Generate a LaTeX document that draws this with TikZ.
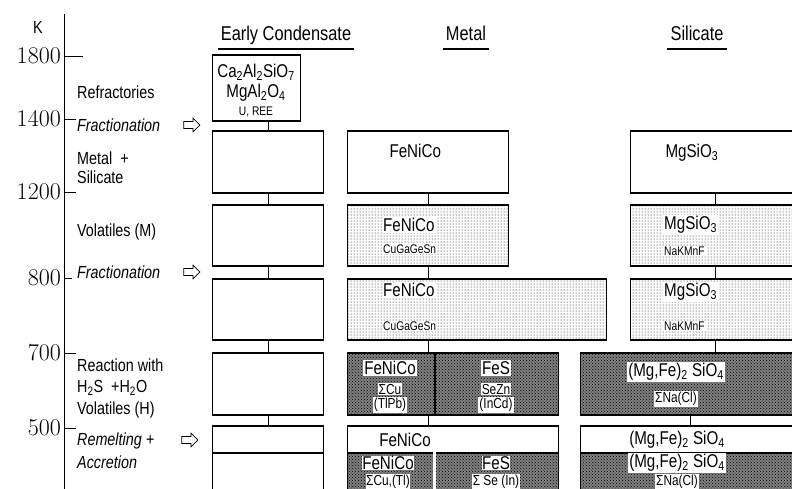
\documentclass[tikz,border=0pt]{standalone}
\usepackage{fontspec}
\usepackage{tikz}
\usetikzlibrary{patterns,shapes.arrows,positioning}
\newfontfamily\lbl[FakeStretch=0.82]{Liberation Sans}
\newcommand{\lo}[1]{\textsubscript{#1}}
\newcommand{\txbig}{\lbl\fontsize{17.5}{20}\selectfont}
\newcommand{\txbox}{\lbl\fontsize{18.5}{21}\selectfont}
\newcommand{\txmid}{\lbl\fontsize{14.5}{16}\selectfont}
\newcommand{\txsmall}{\lbl\fontsize{12.5}{14}\selectfont}

\begin{document}
\begin{tikzpicture}[x=1pt,y=-1pt,
    layer/.style={draw,line width=0.8pt,anchor=north west,inner sep=0},
    rim/.style={line width=2.4pt},
    light/.style={pattern=dots,pattern color=black},
    dark/.style={preaction={fill=black!50},pattern=crosshatch dots,pattern color=black},
    tag/.style={fill=white,inner sep=1pt},
    head/.style={font=\lbl\fontsize{20}{22}\selectfont,anchor=base,text depth=6pt,inner sep=3pt},
    temp/.style={font=\fontsize{24}{26}\selectfont,anchor=east,inner sep=0},
    stage/.style={font=\txbig,anchor=west,align=left,inner sep=0},
    push/.style={single arrow,draw,line width=0.7pt,inner sep=3.2pt,
                 minimum height=16pt,single arrow head extend=3.2pt}]
  \useasboundingbox (0,0) rectangle (792,488);
  \clip (0,0) rectangle (792,488);

  % temperature axis
  \coordinate (axtop) at (64,14);
  \coordinate (axbot) at (64,492);
  \draw[line width=0.8pt] (axtop) -- (axbot);
  \node[font=\txbig] (unitK) at (38,27) {K};
  \foreach \t/\y/\l in {1800/56/19,1400/119/12,1200/192/12,800/278/8,700/353/12,500/428/12}{%
    \node[temp] (n\t) at (61,\y) {\t};
    \draw[line width=0.7pt] (64,\y) -- ++(\l,0);
  }

  % stages
  \node[stage] (sRef) at (77,92) {Refractories};
  \node[stage,font=\txbig\itshape] (sFr1) at (77,125) {Fractionation};
  \node[push] (aFr1) at (190,125) {};
  \node[stage,font=\lbl\fontsize{17.5}{19}\selectfont] (sMS) at (77,168) {Metal \ +\\Silicate};
  \node[stage] (sVM) at (77,232) {Volatiles (M)};
  \node[stage,font=\txbig\itshape] (sFr2) at (77,272) {Fractionation};
  \node[push] (aFr2) at (190,272) {};
  \node[stage,font=\lbl\fontsize{17.5}{21.5}\selectfont] (sRH) at (77,388)
      {Reaction with\\H\lo{2}S \ +H\lo{2}O\\Volatiles (H)};
  \node[stage,font=\lbl\fontsize{17.5}{23}\selectfont\itshape] (sRA) at (77,451)
      {Remelting +\\Accretion};
  \node[push] (aRA) at (188,440) {};

  % column heads
  \node[head] (hEC) at (286,40) {Early Condensate};
  \node[head] (hMt) at (466,40) {Metal};
  \node[head] (hSl) at (697,40) {Silicate};
  \foreach \h in {hEC,hMt,hSl}
    \draw[line width=2.4pt] (\h.south west) -- (\h.south east);

  % early condensate
  \node[layer,minimum width=88pt,minimum height=65pt] (ec0) at (212,55) {};
  \node[layer,minimum width=111pt,minimum height=61pt] (ec1) at (212,131) {};
  \node[layer,minimum width=111pt,minimum height=60pt] (ec2) at (212,205) {};
  \node[layer,minimum width=111pt,minimum height=60pt] (ec3) at (212,279) {};
  \node[layer,minimum width=111pt,minimum height=61pt] (ec4) at (212,353) {};
  \node[layer,minimum width=111pt,minimum height=26pt] (ec5) at (212,426) {};
  \node[layer,minimum width=111pt,minimum height=44pt] (ec6) at (212,452) {};

  % metal
  \node[layer,minimum width=161pt,minimum height=61pt] (mt1) at (347,131) {};
  \node[layer,light,minimum width=161pt,minimum height=60pt] (mt2) at (347,205) {};
  \node[layer,light,minimum width=259pt,minimum height=60pt] (mt3) at (347,279) {};
  \node[layer,dark,minimum width=87pt,minimum height=61pt] (mt4a) at (347,353) {};
  \node[layer,dark,minimum width=124pt,minimum height=61pt] (mt4b) at (434,353) {};
  \node[layer,minimum width=211pt,minimum height=26pt] (mt5) at (347,426) {};
  \node[layer,dark,minimum width=87pt,minimum height=44pt] (mt6a) at (347,452) {};
  \node[layer,dark,minimum width=124pt,minimum height=44pt] (mt6b) at (434,452) {};

  % silicate
  \node[layer,minimum width=170pt,minimum height=61pt] (sl1) at (630,131) {};
  \node[layer,light,minimum width=170pt,minimum height=60pt] (sl2) at (630,205) {};
  \node[layer,light,minimum width=170pt,minimum height=60pt] (sl3) at (630,279) {};
  \node[layer,dark,minimum width=220pt,minimum height=61pt] (sl4) at (580,353) {};
  \node[layer,minimum width=220pt,minimum height=26pt] (sl5) at (580,426) {};
  \node[layer,dark,minimum width=220pt,minimum height=44pt] (sl6) at (580,452) {};

  \foreach \n in {ec0,ec1,ec2,ec3,ec4,ec5,mt1,mt2,mt3,mt4a,mt4b,mt5,sl1,sl2,sl3,sl4,sl5}
    \draw[rim] (\n.north west) -- (\n.north east) (\n.south west) -- (\n.south east);
  \draw[rim] (mt4a.north east) -- (mt4a.south east);
  \draw[white,line width=3pt] (mt6a.north east) -- (mt6a.south east);

  % links between layers
  \draw[line width=0.8pt] (ec1.north) -- (ec1.north |- ec0.south);
  \foreach \a/\b in {ec1/ec2,ec2/ec3,ec3/ec4,ec4/ec5,mt1/mt2,sl1/sl2,sl2/sl3,sl3/sl4,sl4/sl5}
    \draw[line width=0.8pt] (\a.south) -- (\a.south |- \b.north);
  \draw[line width=0.8pt] (mt2.south) -- (mt2.south |- mt3.north);
  \draw[line width=0.8pt] (mt2.south |- mt3.south) -- (mt2.south |- mt4a.north);
  \draw[line width=0.8pt] (mt2.south |- mt4a.south) -- (mt2.south |- mt5.north);

  % contents
  \node[font=\txbox] (c0a) at (256,72) {Ca\lo{2}Al\lo{2}SiO\lo{7}};
  \node[font=\txbox] (c0b) at (256,93) {MgAl\lo{2}O\lo{4}};
  \node[font=\txsmall] (c0c) at (256,112) {U, REE};

  \node[font=\txbox,anchor=west] (m1) at (386,151) {FeNiCo};
  \node[font=\txbox,anchor=west] (s1) at (662,153) {MgSiO\lo{3}};

  \node[tag,font=\txbox,anchor=west] (m2a) at (382,225) {FeNiCo};
  \node[tag,font=\txsmall,anchor=west] (m2b) at (382,249) {CuGaGeSn};
  \node[tag,font=\txbox,anchor=west] (s2a) at (663,225) {MgSiO\lo{3}};
  \node[tag,font=\txsmall,anchor=west] (s2b) at (663,251) {NaKMnF};

  \node[tag,font=\txbox,anchor=west] (m3a) at (382,290) {FeNiCo};
  \node[tag,font=\txsmall,anchor=west] (m3b) at (382,326) {CuGaGeSn};
  \node[tag,font=\txbox,anchor=west] (s3a) at (663,292) {MgSiO\lo{3}};
  \node[tag,font=\txsmall,anchor=west] (s3b) at (663,326) {NaKMnF};

  \node[tag,font=\txbox] (m4a) at (390,368) {FeNiCo};
  \node[tag,font=\txmid] (m4b) at (390,389) {ΣCu};
  \node[tag,font=\txmid] (m4c) at (390,405) {(TlPb)};
  \node[tag,font=\txbox] (m4d) at (496,368) {FeS};
  \node[tag,font=\txmid] (m4e) at (496,389) {SeZn};
  \node[tag,font=\txmid] (m4f) at (496,405) {(InCd)};
  \node[tag,font=\txbox] (s4a) at (676,372) {(Mg,Fe)\lo{2} SiO\lo{4}};
  \node[tag,font=\txmid] (s4b) at (676,399) {ΣNa(Cl)};

  \node[font=\txbox] (m5) at (405,440) {FeNiCo};
  \node[font=\txbox] (s5) at (677,440) {(Mg,Fe)\lo{2} SiO\lo{4}};

  \node[tag,font=\txbox,inner sep=0.5pt] (m6a) at (388,463) {FeNiCo};
  \node[tag,font=\txmid,inner sep=0.5pt] (m6b) at (388,481.5) {ΣCu,(Tl)};
  \node[tag,font=\txbox,inner sep=0.5pt] (m6c) at (496,463) {FeS};
  \node[tag,font=\txmid,inner sep=0.5pt] (m6d) at (496,481.5) {Σ Se (In)};
  \node[tag,font=\txbox] (s6a) at (677,463) {(Mg,Fe)\lo{2} SiO\lo{4}};
  \node[tag,font=\txmid] (s6b) at (677,482) {ΣNa(Cl)};
\end{tikzpicture}
\end{document}
